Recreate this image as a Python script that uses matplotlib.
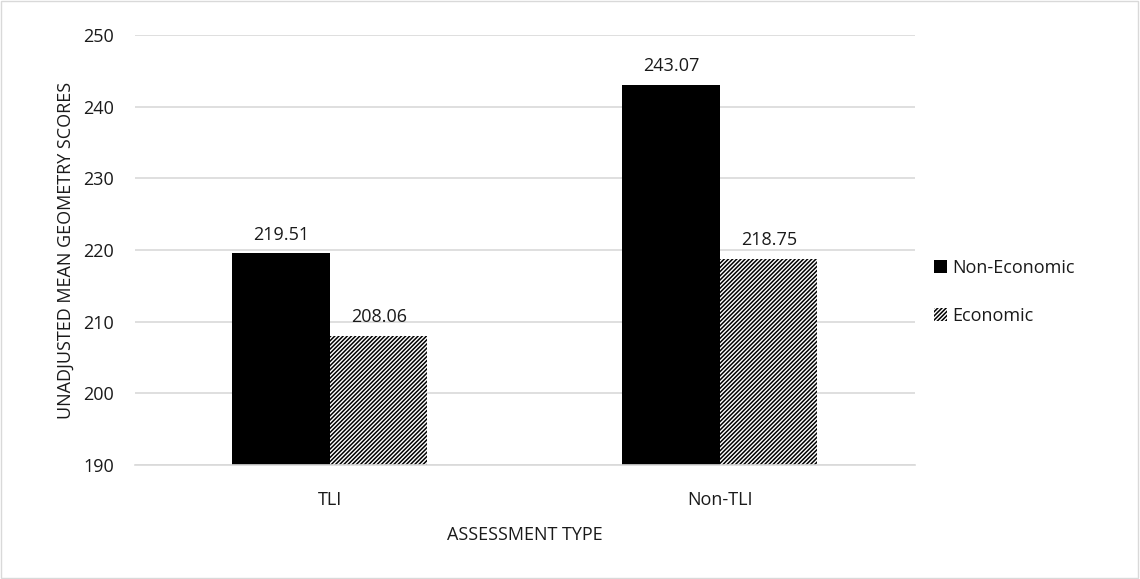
import matplotlib.pyplot as plt
import matplotlib.patches as mpatches
import numpy as np

categories = ["TLI", "Non-TLI"]
series_names = ["Non-Economic", "Economic"]
non_economic = [219.51, 243.07]
economic = [208.06, 218.75]

plt.rcParams['font.family'] = ['Open Sans', 'DejaVu Sans']
plt.rcParams['hatch.linewidth'] = 1.1

fig = plt.figure(figsize=(11.4, 5.79), dpi=100)
ax = fig.add_axes([0.1184, 0.1969, 0.6842, 0.7427])

x = np.arange(len(categories))
w = 0.25
ax.bar(x - w / 2, np.array(non_economic) - 190, w, bottom=190,
       color='black', edgecolor='black', linewidth=0, label=series_names[0])
ax.bar(x + w / 2, np.array(economic) - 190, w, bottom=190,
       color='white', edgecolor='black', hatch='////////', linewidth=0,
       label=series_names[1])

for xs, vals in [(x - w / 2, non_economic), (x + w / 2, economic)]:
    for xi, v in zip(xs, vals):
        ax.annotate(f"{v:.2f}", (xi, v), xytext=(0, 7), textcoords='offset points',
                    ha='center', va='bottom', fontsize=13, color='#1a1a1a')

ax.set_xlim(-0.5, 1.5)
ax.set_ylim(190, 250)
ax.set_yticks(np.arange(190, 251, 10))
ax.set_xticks(x)
ax.set_xticklabels(categories)
ax.tick_params(axis='both', length=0, labelsize=13, colors='#1a1a1a')
ax.tick_params(axis='y', pad=15)
ax.tick_params(axis='x', pad=19)
ax.yaxis.grid(True, color='#d9d9d9', linewidth=1.2)
ax.set_axisbelow(True)
for s in ['top', 'left', 'right']:
    ax.spines[s].set_visible(False)
ax.spines['bottom'].set_color('#d9d9d9')
ax.spines['bottom'].set_linewidth(1.2)

ax.set_ylabel("UNADJUSTED MEAN GEOMETRY SCORES", fontsize=13, color='#1a1a1a', labelpad=6)
ax.set_xlabel("ASSESSMENT TYPE", fontsize=13, color='#1a1a1a', labelpad=12)

handles = [mpatches.Patch(facecolor='black', edgecolor='black', linewidth=0),
           mpatches.Patch(facecolor='white', edgecolor='black', hatch='////////', linewidth=0)]
fig.legend(handles, series_names, loc='center left', bbox_to_anchor=(0.805, 0.496),
           frameon=False, fontsize=13, handlelength=0.75, handleheight=0.75,
           handletextpad=0.25, labelspacing=1.65, labelcolor='#1a1a1a')

fig.patches.append(mpatches.Rectangle((0.001, 0.001), 0.997, 0.997, transform=fig.transFigure,
                                      fill=False, edgecolor='#d9d9d9', linewidth=1))

fig.savefig("out.png", dpi=100)
